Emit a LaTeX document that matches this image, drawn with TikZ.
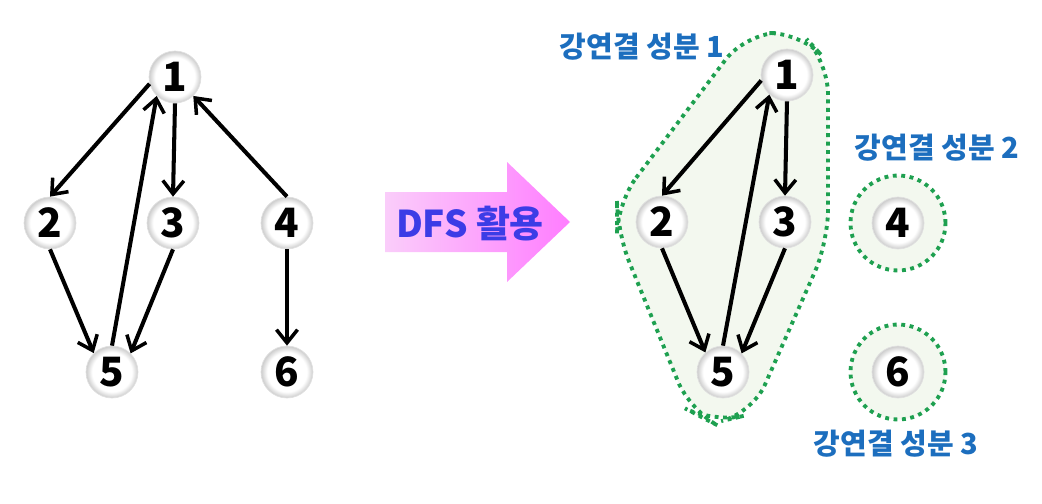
\documentclass[tikz,border=0pt]{standalone}
\usepackage{fontspec}
\setmainfont{Noto Sans CJK KR}
\usetikzlibrary{arrows.meta,calc}
\definecolor{lblue}{RGB}{28,110,190}
\definecolor{dfsblue}{RGB}{60,60,230}
\definecolor{hullgreen}{RGB}{30,160,80}
\definecolor{hullfill}{RGB}{243,248,239}
\definecolor{pinkL}{RGB}{250,205,250}
\definecolor{pinkR}{RGB}{255,125,255}
\pgfdeclareradialshading{ballnode}{\pgfpoint{0bp}{0bp}}{color(0bp)=(white); color(19bp)=(white); color(25bp)=(black!20); color(50bp)=(black!20)}
\tikzset{
  vnode/.style={circle, minimum size=1.04cm, inner sep=0pt, shading=ballnode, draw=black!12, line width=0.4pt, font=\bfseries\fontsize{23pt}{23pt}\selectfont},
  edge/.style={line width=2.3pt, -{Straight Barb[length=7.5pt,width=12pt,line width=2pt]}},
  hull/.style={draw=hullgreen, fill=hullfill, line width=2.2pt, dash pattern=on 2.2pt off 2.6pt},
  comp/.style={text=lblue, font=\bfseries\fontsize{16.5pt}{16.5pt}\selectfont},
}
\begin{document}
\begin{tikzpicture}[x=0.02cm,y=-0.02cm]
\useasboundingbox (0,0) rectangle (1042,504);
% left graph
\node[vnode] (a1) at (175,77) {1};
\node[vnode] (a2) at (50,223) {2};
\node[vnode] (a3) at (173,223) {3};
\node[vnode] (a4) at (287,223) {4};
\node[vnode] (a5) at (112,372) {5};
\node[vnode] (a6) at (287,372) {6};
\draw[edge] (a1.195) -- (a2.north);
\draw[edge] (a1.south) -- (a3.north);
\draw[edge] (a4.north) -- (a1.314);
\draw[edge] (a5.north) -- (a1.226);
\draw[edge] (a2.south) -- (a5.134);
\draw[edge] (a3.south) -- (a5.45);
\draw[edge] (a4.south) -- (a6.north);
% big arrow
\path[left color=pinkL, right color=pinkR] (385,192) -- (507,192) -- (507,162) -- (570,222) -- (507,282) -- (507,252) -- (385,252) -- cycle;
\node[text=dfsblue, font=\bfseries\fontsize{21pt}{21pt}\selectfont] (dfs) at (470,224) {DFS 활용};
% hulls
\draw[hull, rounded corners=18pt] (617,203) -- (745,34) -- (800,32) -- (828,62) -- (828,242) -- (752,414) -- (713,423) -- (690,411) -- (617,232) -- cycle;
\node[hull, circle, minimum size=1.9cm] (h4) at (898,223) {};
\node[hull, circle, minimum size=1.9cm] (h6) at (898,372) {};
% right graph
\node[vnode] (b1) at (787,75) {1};
\node[vnode] (b2) at (662,222) {2};
\node[vnode] (b3) at (785,222) {3};
\node[vnode] (b5) at (723,372) {5};
\node[vnode] (b4) at (898,223) {4};
\node[vnode] (b6) at (898,372) {6};
\draw[edge] (b1.192) -- (b2.north);
\draw[edge] (b1.south) -- (b3.north);
\draw[edge] (b5.north) -- (b1.228);
\draw[edge] (b2.south) -- (b5.132);
\draw[edge] (b3.south) -- (b5.45);
% labels
\node[comp] (l1) at (642,47) {강연결 성분 1};
\node[comp] (l2) at (937,148) {강연결 성분 2};
\node[comp] (l3) at (896,444) {강연결 성분 3};
\end{tikzpicture}
\end{document}
